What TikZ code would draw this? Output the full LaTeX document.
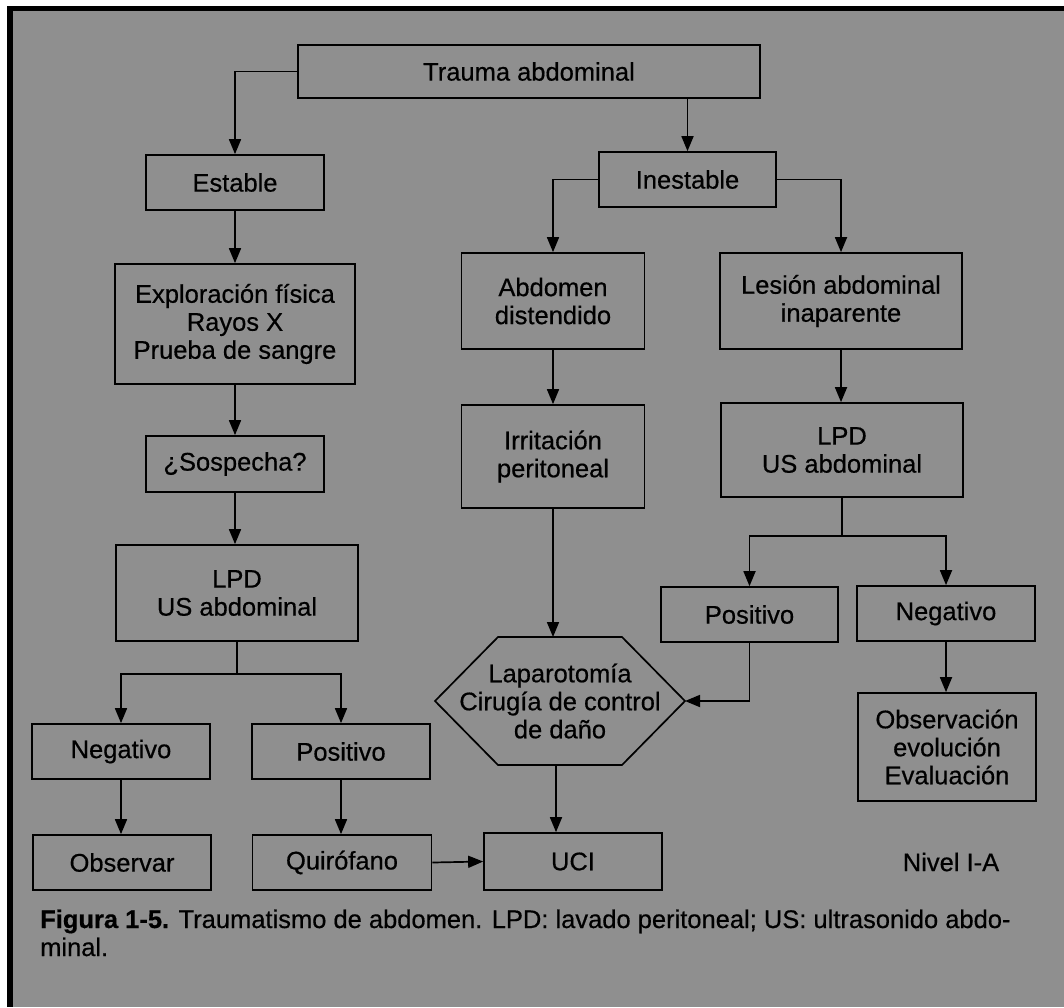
\documentclass[tikz,border=0pt]{standalone}
\usepackage{fontspec}
\setmainfont{Liberation Sans}[FakeBold=0.5, BoldFeatures={FakeBold=0.5}]
\usetikzlibrary{arrows.meta,calc}

\definecolor{paper}{RGB}{143,143,143}

\tikzset{
  box/.style={draw=black, line width=1.7pt, inner sep=0pt, align=center,
              font=\fontsize{25.5}{28}\selectfont},
  arr/.style={line width=1.7pt, -{Triangle[length=15pt,width=12pt]}},
  link/.style={line width=1.7pt},
}

\begin{document}
\begin{tikzpicture}[x=1pt, y=-1pt]
  \useasboundingbox (0,0) rectangle (1064,1007);
  % scanned page and its frame
  \fill[paper] (0,0) rectangle (1064,1007);
  \fill[white] (0,0) rectangle (1064,6);
  \fill[white] (0,0) rectangle (7,1007);
  \fill[black] (7,6) rectangle (1064,10.5);
  \fill[black] (7,6) rectangle (12.5,1007);

  % top
  \node[box, minimum width=462pt, minimum height=53pt] (trauma) at (529,71.5) {Trauma abdominal};
  \node[box, minimum width=178pt, minimum height=55pt] (estable) at (235,182.5) {Estable};
  \node[box, minimum width=177pt, minimum height=55pt] (inestable) at (687.5,179.5) {Inestable};

  % left column
  \node[box, minimum width=240pt, minimum height=120pt] (explor) at (235,324) {Exploración física\\Rayos X\\Prueba de sangre};
  \node[box, minimum width=178pt, minimum height=56pt] (sospecha) at (235,464) {¿Sospecha?};
  \node[box, minimum width=242pt, minimum height=96pt] (lpdA) at (237,593) {LPD\\US abdominal};
  \node[box, minimum width=178pt, minimum height=55pt] (negA) at (121,751.5) {Negativo};
  \node[box, minimum width=178pt, minimum height=55pt] (posA) at (341,751.5) {Positivo};
  \node[box, minimum width=178pt, minimum height=55pt] (observar) at (122,862.5) {Observar};
  \node[box, minimum width=179pt, minimum height=55pt] (quiro) at (342,862.5) {Quirófano};

  % middle column
  \node[box, minimum width=183pt, minimum height=96pt] (abdomen) at (553,301) {Abdomen\\distendido};
  \node[box, minimum width=183pt, minimum height=103pt] (irrit) at (553,456.5) {Irritación\\peritoneal};

  % hexagon: flat top and bottom, pointed sides
  \node[inner sep=0pt, align=center, font=\fontsize{25.5}{28}\selectfont]
    (hex) at (560,701) {Laparotomía\\Cirugía de control\\de daño};
  \coordinate (hexC) at (560,701);
  \coordinate (hexT) at (553,637);
  \coordinate (hexB) at (556,765);
  \coordinate (hexR) at ($(hexC)+(125,0)$);
  \draw[line width=1.7pt, line join=miter]
    ($(hexC)+(-62,-64)$) -- ($(hexC)+(62,-64)$) -- (hexR)
    -- ($(hexC)+(62,64)$) -- ($(hexC)+(-62,64)$) -- ($(hexC)+(-125,0)$) -- cycle;
  \node[box, minimum width=178pt, minimum height=57pt] (uci) at (573,861.5) {UCI};

  % right column
  \node[box, minimum width=242pt, minimum height=96pt] (lesion) at (841,301) {Lesión abdominal\\inaparente};
  \node[box, minimum width=242pt, minimum height=94pt] (lpdB) at (842,450) {LPD\\US abdominal};
  \node[box, minimum width=177pt, minimum height=55pt] (posB) at (749.5,614.5) {Positivo};
  \node[box, minimum width=178pt, minimum height=55pt] (negB) at (946,613.5) {Negativo};
  \node[box, minimum width=178pt, minimum height=108pt] (obsB) at (947,747) {Observación\\evolución\\Evaluación};

  \node[font=\fontsize{25.5}{28}\selectfont] (nivel) at (951,862) {Nivel I-A};

  % connectors
  \draw[arr] (trauma.west) -| (estable.north);
  \draw[arr] (trauma.south -| inestable.north) -- (inestable.north);
  \draw[arr] (inestable.west) -| (abdomen.north);
  \draw[arr] (inestable.east) -| (lesion.north);

  \draw[arr] (estable.south) -- (explor.north);
  \draw[arr] (explor.south) -- (sospecha.north);
  \draw[arr] (sospecha.south) -- (sospecha.south |- lpdA.north);
  \draw[link] (lpdA.south) -- ++(0,32) coordinate (splitA);
  \draw[arr] (splitA) -| (negA.north);
  \draw[arr] (splitA) -| (posA.north);
  \draw[arr] (negA.south) -- (negA.south |- observar.north);
  \draw[arr] (posA.south) -- (posA.south |- quiro.north);
  \draw[arr] (quiro.east) -- (uci.west);

  \draw[arr] (abdomen.south) -- (irrit.north);
  \draw[arr] (irrit.south) -- (hexT);
  \draw[arr] (hexB) -- (hexB |- uci.north);

  \draw[arr] (lesion.south) -- (lesion.south |- lpdB.north);
  \draw[link] (lpdB.south) -- ++(0,38) coordinate (splitB);
  \draw[arr] (splitB) -| (posB.north);
  \draw[arr] (splitB) -| (negB.north);
  \draw[arr] (posB.south) |- (hexR);
  \draw[arr] (negB.south) -- (negB.south |- obsB.north);

  % caption
  \node[anchor=base west, inner sep=0pt, align=left,
        font=\fontsize{25.5}{28}\selectfont] (caption) at (40,956)
    {\textbf{Figura 1-5.} Traumatismo de abdomen. LPD: lavado peritoneal; US: ultrasonido abdo-\\minal.};
\end{tikzpicture}
\end{document}
